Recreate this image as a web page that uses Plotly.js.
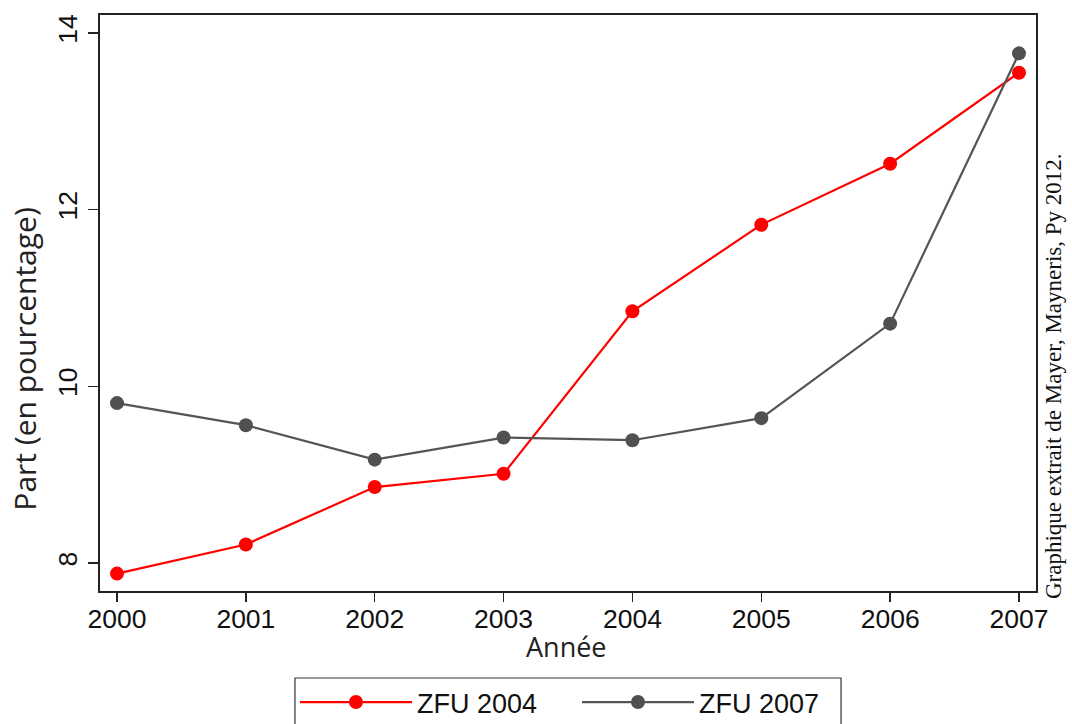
<!DOCTYPE html>
<html>
<head>
<meta charset="utf-8">
<script src="https://cdn.plot.ly/plotly-3.0.1.min.js"></script>
<style>
html,body{margin:0;padding:0;background:#fff;}
#chart{width:1072px;height:724px;}
</style>
</head>
<body>
<div id="chart"></div>
<script>
var years = [2000, 2001, 2002, 2003, 2004, 2005, 2006, 2007];
var zfu2004 = [7.88, 8.21, 8.86, 9.01, 10.85, 11.83, 12.52, 13.55];
var zfu2007 = [9.81, 9.56, 9.17, 9.42, 9.39, 9.64, 10.71, 13.77];
var seriesNames = ["ZFU 2004", "ZFU 2007"];
var yTicks = [8, 10, 12, 14];
var xTitle = "Année";
var yTitle = "Part (en pourcentage)";
var sourceNote = "Graphique extrait de Mayer, Mayneris, Py 2012.";

var traces = [
  {x: years, y: zfu2004, name: seriesNames[0], type: "scatter", mode: "lines+markers",
   line: {color: "#ff0000", width: 2.2}, marker: {color: "#ff0000", size: 14}},
  {x: years, y: zfu2007, name: seriesNames[1], type: "scatter", mode: "lines+markers",
   line: {color: "#555555", width: 2.2}, marker: {color: "#505050", size: 14}}
];

var layout = {
  width: 1072, height: 724,
  paper_bgcolor: "#ffffff", plot_bgcolor: "#ffffff",
  margin: {l: 100, r: 36, t: 15, b: 133, pad: 0, autoexpand: false},
  showlegend: true,
  legend: {
    orientation: "h", x: 0.2083, xanchor: "left", y: -0.151, yanchor: "top",
    borderwidth: 0, bgcolor: "rgba(0,0,0,0)",
    font: {family: "Liberation Sans, Arial, sans-serif", size: 27, color: "#111111"},
    itemwidth: 112, entrywidth: 155, entrywidthmode: "pixels", itemclick: false
  },
  shapes: [
    {type: "rect", xref: "paper", yref: "paper", x0: 0.2083, x1: 0.7917, y0: -0.151, y1: -0.26,
     line: {color: "#333333", width: 1.2}, fillcolor: "rgba(0,0,0,0)", layer: "below"}
  ],
  xaxis: {
    range: [1999.868, 2007.132], tickvals: years, ticktext: years.map(String),
    showgrid: false, zeroline: false, showline: true, linecolor: "#222222", linewidth: 2,
    mirror: true, ticks: "outside", ticklen: 9, tickwidth: 1.5, tickcolor: "#222222",
    ticklabelstandoff: -6,
    tickfont: {family: "Liberation Sans, Arial, sans-serif", size: 26.5, color: "#111111"}
  },
  yaxis: {
    range: [7.683, 14.204], tickvals: yTicks, ticktext: yTicks.map(String), tickangle: -90,
    showgrid: false, zeroline: false, showline: true, linecolor: "#222222", linewidth: 2,
    mirror: true, ticks: "outside", ticklen: 10, tickwidth: 1.5, tickcolor: "#222222",
    tickfont: {family: "Liberation Sans, Arial, sans-serif", size: 26.5, color: "#111111"}
  },
  annotations: [
    {text: xTitle, xref: "paper", yref: "paper", x: 0.498, y: -0.097, xanchor: "center", yanchor: "middle",
     showarrow: false, font: {family: "Open Sans, sans-serif", size: 27, color: "#222222"}},
    {text: yTitle, xref: "paper", yref: "paper", x: -0.081, y: 0.402, xanchor: "center", yanchor: "middle",
     textangle: -90, showarrow: false, font: {family: "Open Sans, sans-serif", size: 30, color: "#222222"}},
    {text: sourceNote, xref: "paper", yref: "paper", x: 1.018, y: 0.373, xanchor: "center", yanchor: "middle",
     textangle: -90, showarrow: false, font: {family: "Liberation Serif, Times New Roman, serif", size: 23, color: "#111111"}}
  ]
};

Plotly.newPlot("chart", traces, layout, {displayModeBar: false, staticPlot: true});
</script>
</body>
</html>
